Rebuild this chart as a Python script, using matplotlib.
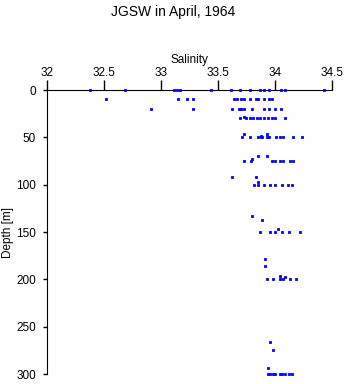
import matplotlib.pyplot as plt

plt.rcParams['font.family'] = ['Liberation Sans', 'DejaVu Sans']

# depth [m] and salinity per observation level
d0 = [32.38, 32.68, 33.11, 33.14, 33.17, 33.44, 33.61, 33.69, 33.78, 33.87, 33.90, 33.95, 34.05, 34.09, 34.43]
d10 = [32.52, 33.15, 33.23, 33.28, 33.64, 33.67, 33.70, 33.73, 33.78, 33.83, 33.85, 33.90, 33.95, 33.97]
d20 = [32.91, 33.28, 33.62, 33.68, 33.70, 33.73, 33.80, 33.90, 33.95, 34.00, 34.05]
d30 = [33.69, 33.75, 33.78, 33.81, 33.84, 33.87, 33.90, 33.94, 33.97, 34.00, 34.09]
d50 = [33.71, 33.78, 33.85, 33.88, 33.89, 33.93, 33.95, 34.01, 34.04, 34.07, 34.16, 34.24]
d75 = [33.73, 33.79, 33.97, 34.00, 34.04, 34.07, 34.13, 34.16]
d100 = [33.82, 33.85, 33.90, 33.96, 34.00, 34.06, 34.11, 34.15]
d150 = [33.87, 33.96, 34.00, 34.06, 34.12, 34.22]
d200 = [33.93, 33.98, 34.04, 34.07, 34.13, 34.18]
d300 = [33.94, 33.96, 33.98, 34.00, 34.04, 34.06, 34.09, 34.12, 34.15]

# odd single points (depth, salinity)
extra_depth = [28, 46, 46, 49, 70, 70, 73, 92, 92, 97, 133, 137, 147, 178, 186, 196, 198, 266, 275, 294]
extra_sal = [33.73, 33.73, 33.93, 33.88, 33.85, 33.93, 33.80, 33.62, 33.83, 33.85, 33.80, 33.89, 34.03, 33.91, 33.91, 34.04, 34.09, 33.96, 33.98, 33.94]

levels = [(0, d0), (10, d10), (20, d20), (30, d30), (50, d50), (75, d75),
          (100, d100), (150, d150), (200, d200), (300, d300)]

fig = plt.figure(figsize=(3.46, 3.84), dpi=100)
ax = fig.add_axes([0.1358, 0.026, 0.8237, 0.7396])

sty = dict(marker='s', ms=2.0, color='#0000ff', linestyle='none', mew=0.6,
           clip_on=False, zorder=5)
for dep, sal in levels:
    ax.plot(sal, [dep] * len(sal), **sty)
ax.plot(extra_sal, extra_depth, **sty)

ax.set_xlim(32, 34.5)
ax.set_ylim(300, 0)
ax.xaxis.tick_top()
ax.xaxis.set_label_position('top')
ax.set_xticks([32, 32.5, 33, 33.5, 34, 34.5])
ax.set_xticklabels(['32', '32.5', '33', '33.5', '34', '34.5'])
ax.set_yticks([0, 50, 100, 150, 200, 250, 300])
ax.tick_params(axis='x', direction='out', length=7, width=1, labelsize=8.5, pad=1)
ax.tick_params(axis='y', direction='out', length=3, width=1, labelsize=8.5, pad=5)
ax.spines['right'].set_visible(False)
ax.spines['bottom'].set_visible(False)
ax.set_xlabel('Salinity', fontsize=8.5, labelpad=3)
ax.set_ylabel('Depth [m]', fontsize=8.5)
ax.yaxis.set_label_coords(-0.115, 0.5)

fig.text(0.5, 0.968, 'JGSW in April, 1964', ha='center', va='center', fontsize=10)

fig.savefig('out.png', dpi=100)
